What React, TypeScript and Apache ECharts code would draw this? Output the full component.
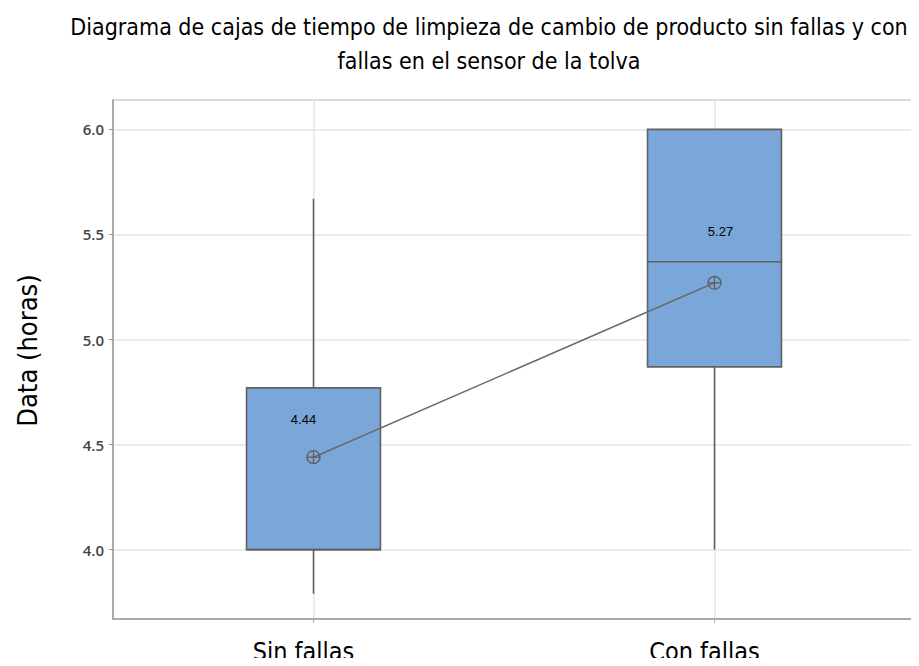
import React, { useEffect, useRef } from "react";
import * as echarts from "echarts";

// Categories and box statistics (hours)
const categories = ["Sin fallas", "Con fallas"];
const whiskerLow = [3.79, 4.0];
const quartile1 = [4.0, 4.87];
const medians = [4.0, 5.37];
const quartile3 = [4.77, 6.0];
const whiskerHigh = [5.67, 6.0];
const means = [4.44, 5.27];
const yTickValues = [4.0, 4.5, 5.0, 5.5, 6.0];

const TITLE =
  "Diagrama de cajas de tiempo de limpieza de cambio de producto sin fallas y con\nfallas en el sensor de la tolva";
const NARROW = "'Liberation Sans Narrow', 'DejaVu Sans Condensed', 'Open Sans', sans-serif";

const meanSymbol =
  "path://M-6,0 A6,6 0 1,0 6,0 A6,6 0 1,0 -6,0 Z M0,-6 L0,6 M-6,0 L6,0";

export default function App() {
  const ref = useRef<HTMLDivElement>(null);

  useEffect(() => {
    if (!ref.current) return;
    const chart = echarts.init(ref.current, null, { renderer: "svg" });

    const boxData = categories.map((_, i) => [
      i,
      whiskerLow[i],
      quartile1[i],
      medians[i],
      quartile3[i],
      whiskerHigh[i],
    ]);

    const stroke = "#616161";

    chart.setOption({
      animation: false,
      backgroundColor: "#ffffff",
      title: {
        text: TITLE,
        left: 484,
        top: 5,
        textAlign: "center",
        textStyle: {
          fontFamily: NARROW,
          fontSize: 23,
          fontWeight: "normal",
          color: "#000",
          lineHeight: 34,
        },
      },
      grid: {
        left: 113,
        right: 4,
        top: 100,
        bottom: 47,
        show: true,
        borderColor: "#b5b5b5",
        borderWidth: 1,
      },
      xAxis: {
        type: "category",
        data: categories,
        axisLine: { show: true, lineStyle: { color: "#9a9a9a", width: 1.5 } },
        axisTick: { show: true, alignWithLabel: true, length: 4, lineStyle: { color: "#aaa" } },
        axisLabel: {
          fontFamily: NARROW,
          fontSize: 25,
          lineHeight: 26,
          color: "#000",
          margin: 19,
          padding: [0, 20, 0, 0],
        },
        splitLine: { show: false },
      },
      yAxis: {
        type: "value",
        min: 3.67,
        max: 6.14,
        name: "Data (horas)",
        nameLocation: "middle",
        nameRotate: 90,
        nameGap: 72,
        nameTextStyle: {
          fontFamily: NARROW,
          fontSize: 27,
          color: "#000",
          padding: [0, 0, 0, 18],
        },
        axisLine: { show: true, lineStyle: { color: "#9a9a9a", width: 1.5 } },
        axisTick: {
          show: true,
          length: 4,
          customValues: yTickValues,
          lineStyle: { color: "#999" },
        },
        axisLabel: {
          customValues: yTickValues,
          formatter: (v: number) => v.toFixed(1),
          fontFamily: "'Open Sans', sans-serif",
          fontWeight: 600,
          fontSize: 15,
          color: "#444",
          margin: 9,
        },
        splitLine: { show: true, lineStyle: { color: "#e6e6e6", width: 1.5 } },
      },
      series: [
        {
          // vertical reference lines at each category
          type: "line",
          data: [],
          z: 0,
          silent: true,
          markLine: {
            z: 0,
            silent: true,
            symbol: "none",
            label: { show: false },
            lineStyle: { color: "#e6e6e6", width: 1.5, type: "solid" },
            data: categories.map((c) => ({ xAxis: c })),
          },
        },
        {
          type: "custom",
          z: 2,
          data: boxData,
          encode: { x: 0, y: [1, 2, 3, 4, 5] },
          renderItem: (params: any, api: any) => {
            const i = api.value(0);
            const band = api.size([1, 0])[0];
            const half = (band * 0.334) / 2;
            const pLow = api.coord([i, api.value(1)]);
            const pQ1 = api.coord([i, api.value(2)]);
            const pMed = api.coord([i, api.value(3)]);
            const pQ3 = api.coord([i, api.value(4)]);
            const pHigh = api.coord([i, api.value(5)]);
            const lineStyle = { stroke, lineWidth: 1.6 };
            return {
              type: "group",
              children: [
                {
                  type: "line",
                  shape: { x1: pLow[0], y1: pLow[1], x2: pQ1[0], y2: pQ1[1] },
                  style: lineStyle,
                },
                {
                  type: "line",
                  shape: { x1: pQ3[0], y1: pQ3[1], x2: pHigh[0], y2: pHigh[1] },
                  style: lineStyle,
                },
                {
                  type: "rect",
                  shape: {
                    x: pQ1[0] - half,
                    y: pQ3[1],
                    width: half * 2,
                    height: pQ1[1] - pQ3[1],
                  },
                  style: { fill: "#7ba6d9", stroke, lineWidth: 1.6 },
                },
                {
                  type: "line",
                  shape: { x1: pMed[0] - half, y1: pMed[1], x2: pMed[0] + half, y2: pMed[1] },
                  style: lineStyle,
                },
              ],
            };
          },
        },
        {
          type: "line",
          z: 3,
          data: [
            {
              value: means[0],
              label: { offset: [-10, -6] },
            },
            {
              value: means[1],
              label: { offset: [6, -20] },
            },
          ],
          symbol: meanSymbol,
          symbolSize: 13,
          showSymbol: true,
          itemStyle: { color: "rgba(0,0,0,0)", borderColor: "#5e5e5e", borderWidth: 1.3 },
          lineStyle: { color: "#6a6a6a", width: 1.5 },
          label: {
            show: true,
            position: "top",
            distance: 18,
            formatter: (p: any) => p.value.toFixed(2),
            fontFamily: "'Liberation Sans', Arial, sans-serif",
            fontSize: 13,
            color: "#000",
          },
        },
      ],
    });

    return () => chart.dispose();
  }, []);

  return <div ref={ref} style={{ width: 919, height: 666, margin: -8 }} />;
}
